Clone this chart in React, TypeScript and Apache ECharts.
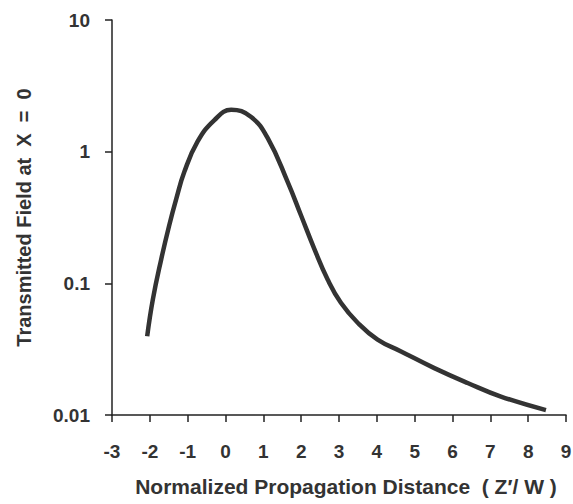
import React, { useEffect, useRef } from "react";
import * as echarts from "echarts";

const xValues = [-2.07, -1.92, -1.7, -1.49, -1.3, -1.09, -0.74, -0.3, 0.15, 0.67, 1.12, 1.645, 2.0, 2.35, 2.7, 3.05, 3.5, 4.02, 4.64, 5.52, 6.4, 7.28, 8.47];
const yValues = [0.0396, 0.0755, 0.152, 0.274, 0.44, 0.7, 1.19, 1.73, 2.08, 1.84, 1.26, 0.587, 0.326, 0.182, 0.107, 0.0712, 0.05, 0.0374, 0.0304, 0.0227, 0.0175, 0.0138, 0.0109];

const xTitle = "Normalized Propagation Distance  ( Z′/ W )";
const yTitle = "Transmitted Field at  X  =  0";

export default function App() {
  const ref = useRef<HTMLDivElement>(null);
  useEffect(() => {
    if (!ref.current) return;
    const chart = echarts.init(ref.current, undefined, { renderer: "svg" });
    const font = "'Liberation Sans', Arial, sans-serif";
    chart.setOption({
      animation: false,
      backgroundColor: "#ffffff",
      grid: { left: 112, top: 20, right: 7, bottom: 89, containLabel: false, outerBoundsMode: "none" },
      xAxis: {
        type: "value",
        min: -3,
        max: 9,
        interval: 1,
        name: xTitle,
        nameLocation: "middle",
        nameGap: 61,
        nameTextStyle: { fontFamily: font, fontWeight: "bold", fontSize: 21, color: "#333", padding: [0, 0, 0, 14] },
        axisLine: { onZero: false, lineStyle: { color: "#222", width: 1.5 } },
        axisTick: { show: true, inside: false, length: 7, lineStyle: { color: "#222", width: 1.5 } },
        axisLabel: { fontFamily: font, fontWeight: "bold", fontSize: 19, color: "#333", margin: 27 },
        splitLine: { show: false },
      },
      yAxis: {
        type: "log",
        logBase: 10,
        min: 0.01,
        max: 10,
        name: yTitle,
        nameLocation: "middle",
        nameGap: 78,
        nameRotate: 90,
        nameTextStyle: { fontFamily: font, fontWeight: "bold", fontSize: 20, color: "#333" },
        axisLine: { show: true, onZero: false, lineStyle: { color: "#222", width: 1.5 } },
        axisTick: { show: true, inside: false, length: 7, lineStyle: { color: "#222", width: 1.5 } },
        axisLabel: {
          fontFamily: font,
          fontWeight: "bold",
          fontSize: 19,
          color: "#333",
          margin: 22,
          formatter: (v: number) => String(Number(v.toPrecision(3))),
        },
        splitLine: { show: false },
      },
      series: [
        {
          type: "line",
          data: xValues.map((x, i) => [x, yValues[i]]),
          smooth: 0.45,
          showSymbol: false,
          lineStyle: { color: "#333", width: 4.5, cap: "butt" },
        },
      ],
    });
    return () => chart.dispose();
  }, []);
  return <div ref={ref} style={{ position: "absolute", left: 0, top: 0, width: 573, height: 504 }} />;
}
